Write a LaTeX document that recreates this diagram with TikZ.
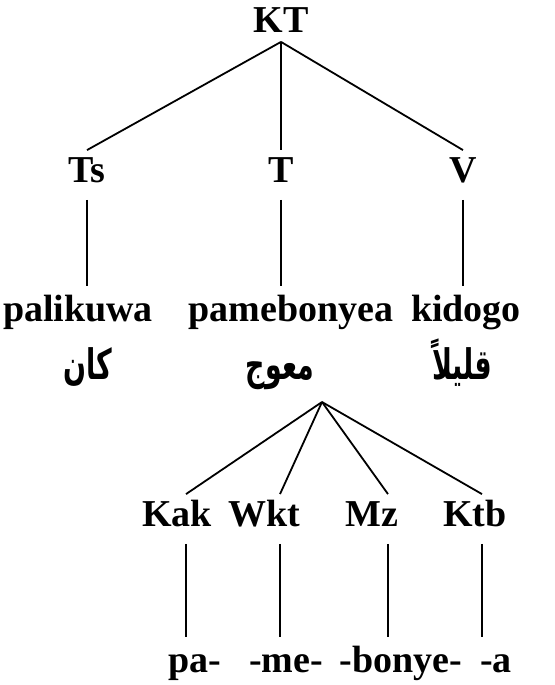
\documentclass[tikz,border=0pt]{standalone}
\usepackage{fontspec}
\setmainfont{Liberation Serif}
\newfontfamily\arabicfont[Script=Arabic,FakeStretch=0.64]{DejaVu Sans}
\TeXXeTstate=1

\begin{document}
\begin{tikzpicture}[x=0.5pt,y=0.5pt,line width=0.9pt,
  every node/.style={font=\bfseries\fontsize{19}{21}\selectfont,inner xsep=0pt},
  cat/.style={anchor=base,text height=12pt,text depth=4pt,inner ysep=4pt},
  word/.style={anchor=base,text height=12.5pt,text depth=4pt,inner ysep=5pt},
  arab/.style={anchor=base,font=\arabicfont\bfseries\fontsize{21}{23}\selectfont,text depth=5pt,inner ysep=6pt}]
\useasboundingbox (0,0) rectangle (555,685);
% top level
\node[cat,inner ysep=0pt] (KT) at (281,652) {KT};
\node[cat] (Ts) at (87,502) {Ts}; \node[cat] (T) at (281,502) {T}; \node[cat] (V) at (463,502) {V};
\foreach \n in {Ts,T,V} \draw (KT.south)--(\n.north);
% words and glosses
\node[word] (palikuwa) at (78,363) {palikuwa}; \node[word] (pamebonyea) at (291,363) {pamebonyea}; \node[word] (kidogo) at (466,363) {kidogo};
\node[arab] (kan) at (88,305) {\beginR كان\endR}; \node[arab] (muawwaj) at (280,305) {\beginR معوج\endR}; \node[arab] (qalilan) at (462,305) {\beginR قليلاً\endR};
\draw (Ts.south)--(Ts.south |- palikuwa.north); \draw (T.south)--(T.south |- pamebonyea.north); \draw (V.south)--(V.south |- kidogo.north);
% morphemes of pamebonyea
\coordinate (apex) at (322,283);
\node[cat] (Kak) at (177,158) {Kak}; \node[cat] (Wkt) at (264,158) {Wkt}; \node[cat] (Mz) at (372,158) {Mz}; \node[cat] (Ktb) at (475,158) {Ktb};
\node[word] (pa) at (195,12) {pa-}; \node[word] (me) at (286,12) {-me-}; \node[word] (bonye) at (401,12) {-bonye-}; \node[word] (a) at (496,12) {-a};
\foreach \n/\s in {Kak/4.5pt,Wkt/8pt,Mz/8pt,Ktb/3.5pt}{
  \draw (apex)--([xshift=\s]\n.north);
  \draw ([xshift=\s]\n.south)--([xshift=\s]\n.south |- pa.north);
}
\end{tikzpicture}
\end{document}
